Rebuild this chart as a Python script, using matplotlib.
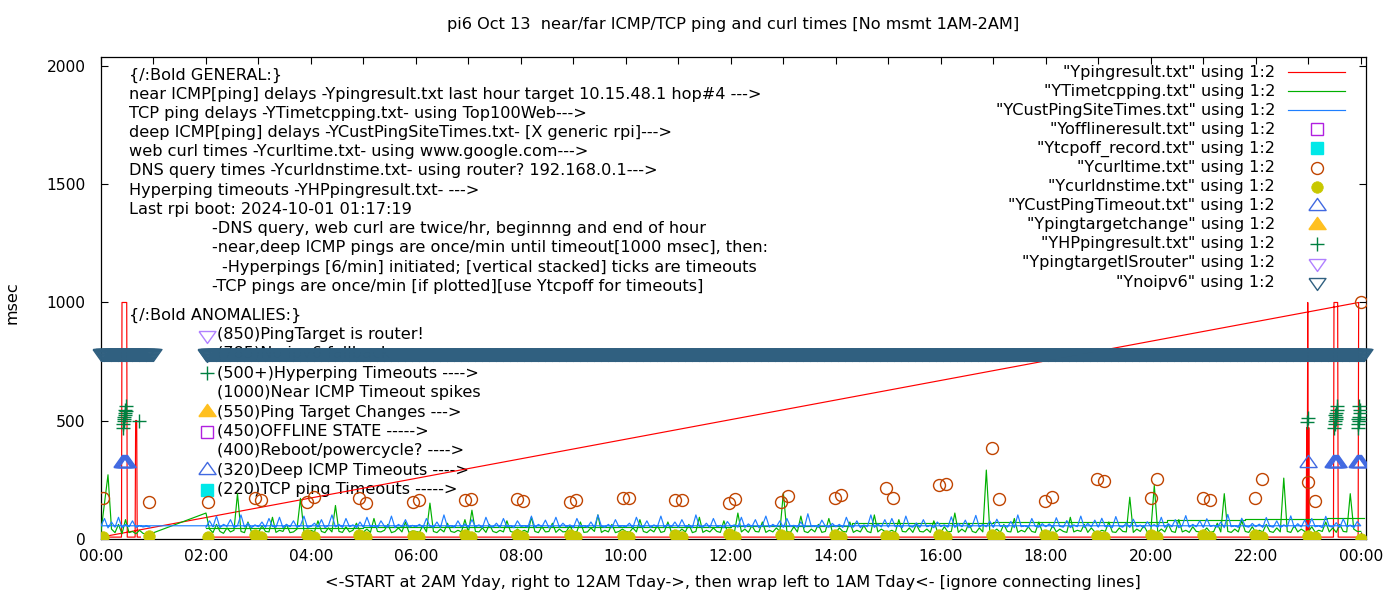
import numpy as np
import matplotlib
matplotlib.use("Agg")
import matplotlib.pyplot as plt
from matplotlib.lines import Line2D

plt.rcParams['font.family'] = ['DejaVu Sans']
FS = 11.6
TFS = 11.2

# ---- data (hours of day, msec) ----
# near ICMP ping (Ypingresult.txt), file order: 2AM..midnight then wrap 0..1AM
near_t = [2.0, 22.96, 22.97, 22.98, 22.99, 23.0, 23.01, 23.02, 23.48, 23.49, 23.56, 23.57, 23.95, 23.96,
          0.0, 0.39, 0.40, 0.49, 0.50, 0.65, 0.66, 0.68, 0.69, 0.75]
near_ms = [6, 6, 470, 6, 1000, 6, 470, 6, 6, 1000, 1000, 6, 6, 1000,
           6, 6, 1000, 1000, 6, 6, 500, 500, 6, 6]

# TCP ping delays (YTimetcpping.txt), 15 samples per hour
tcp_h0 = [30, 150, 270, 40, 25, 60, 20, 80, 25, 30, 20, 35, 22, 18, 19]
tcp_main = [
    [108, 40, 25, 60, 30, 22, 45, 28, 35, 190, 30, 25, 70, 28, 32],
    [25, 55, 30, 28, 90, 26, 35, 30, 60, 25, 28, 40, 170, 30, 26],
    [35, 28, 75, 30, 25, 45, 28, 140, 30, 26, 50, 28, 35, 65, 30],
    [28, 40, 26, 85, 30, 28, 35, 60, 25, 30, 45, 28, 70, 26, 32],
    [30, 26, 55, 28, 150, 30, 25, 40, 28, 65, 30, 26, 35, 28, 80],
    [26, 120, 30, 28, 45, 26, 60, 30, 25, 35, 28, 75, 30, 26, 40],
    [28, 35, 26, 90, 30, 25, 50, 28, 30, 65, 26, 40, 28, 30, 55],
    [25, 30, 70, 26, 28, 45, 30, 100, 26, 35, 28, 60, 25, 30, 40],
    [30, 26, 45, 28, 80, 30, 25, 38, 28, 55, 26, 30, 70, 28, 35],
    [26, 40, 28, 60, 25, 30, 90, 26, 35, 28, 45, 30, 26, 75, 28],
    [30, 25, 108, 28, 40, 26, 55, 30, 28, 70, 26, 35, 28, 45, 30],
    [193, 30, 26, 50, 28, 95, 30, 25, 40, 28, 60, 26, 30, 85, 28],
    [26, 45, 30, 28, 70, 26, 35, 28, 55, 30, 25, 100, 28, 40, 30],
    [28, 35, 26, 80, 30, 28, 45, 26, 60, 30, 28, 40, 26, 75, 30],
    [26, 50, 28, 30, 108, 26, 40, 28, 65, 30, 25, 45, 28, 290, 30],
    [28, 40, 26, 60, 30, 28, 85, 26, 35, 28, 50, 30, 26, 70, 28],
    [30, 26, 55, 28, 40, 30, 26, 90, 28, 35, 30, 60, 26, 45, 28],
    [26, 35, 30, 70, 28, 26, 45, 30, 28, 175, 26, 40, 30, 55, 28],
    [30, 225, 26, 40, 28, 60, 30, 26, 80, 28, 35, 26, 50, 30, 28],
    [28, 45, 26, 30, 65, 28, 190, 30, 26, 40, 28, 75, 30, 26, 50],
    [26, 35, 28, 60, 30, 26, 45, 28, 256, 30, 26, 55, 28, 40, 30],
    [28, 50, 26, 35, 30, 70, 28, 45, 26, 60, 30, 28, 190, 40, 30],
]
tcp_last = 30
# upper step line of the TCP file
tcp_env_t = [2.0, 5.0, 8.0, 12.0, 14.3, 17.0, 20.3, 21.8, 23.35, 24.07]
tcp_env_ms = [45, 48, 50, 53, 65, 70, 78, 83, 88, 88]

# deep ICMP delays (YCustPingSiteTimes.txt), 15 samples per hour
deep_h0 = [54, 85, 45, 70, 48, 90, 46, 60, 50, 75, 47, 55, 49, 52, 48]
deep_main = [
    [48, 75, 50, 95, 46, 60, 52, 80, 47, 55, 100, 49, 65, 46, 58],
    [50, 70, 47, 85, 52, 48, 90, 46, 60, 50, 75, 48, 55, 95, 47],
    [52, 65, 48, 80, 46, 55, 100, 49, 60, 47, 85, 50, 58, 46, 70],
    [48, 90, 50, 55, 47, 75, 52, 48, 95, 46, 60, 50, 80, 48, 56],
    [50, 60, 47, 85, 52, 48, 70, 46, 100, 50, 55, 47, 75, 49, 62],
    [47, 80, 50, 58, 46, 90, 52, 48, 65, 47, 85, 50, 55, 46, 75],
    [52, 55, 48, 95, 47, 60, 50, 78, 46, 52, 90, 48, 65, 50, 58],
    [46, 85, 50, 55, 48, 70, 47, 100, 52, 48, 60, 46, 80, 50, 55],
    [50, 65, 47, 90, 52, 48, 75, 46, 58, 50, 95, 47, 60, 49, 70],
    [48, 80, 50, 55, 46, 100, 52, 48, 65, 47, 85, 50, 56, 46, 72],
    [52, 58, 48, 90, 47, 62, 50, 80, 46, 55, 95, 48, 60, 50, 75],
    [47, 85, 52, 56, 48, 70, 46, 105, 50, 55, 47, 78, 52, 48, 64],
    [50, 60, 47, 90, 52, 48, 75, 46, 58, 50, 100, 47, 62, 49, 80],
    [48, 85, 50, 55, 46, 95, 52, 48, 66, 47, 80, 50, 57, 46, 70],
    [52, 58, 48, 92, 47, 64, 50, 78, 46, 55, 98, 48, 60, 50, 74],
    [47, 82, 52, 56, 48, 72, 46, 100, 50, 55, 47, 85, 52, 48, 63],
    [50, 62, 47, 88, 52, 48, 76, 46, 58, 50, 95, 47, 64, 49, 78],
    [48, 86, 50, 55, 46, 93, 52, 48, 66, 47, 82, 50, 57, 46, 71],
    [52, 59, 48, 90, 47, 63, 50, 80, 46, 55, 97, 48, 60, 50, 75],
    [47, 84, 52, 56, 48, 70, 46, 102, 50, 55, 47, 86, 52, 48, 64],
    [50, 61, 47, 89, 52, 48, 75, 46, 58, 50, 96, 47, 63, 49, 79],
    [48, 85, 50, 55, 46, 94, 52, 48, 67, 47, 83, 50, 57, 46, 72],
]
deep_last = 54

# web curl times (Ycurltime.txt)
curl_t = [0.04, 0.91, 2.04, 2.93, 3.05, 3.92, 4.06, 4.91, 5.05, 5.94, 6.06, 6.93, 7.05, 7.92, 8.04,
          8.93, 9.05, 9.94, 10.06, 10.93, 11.07, 11.96, 12.08, 12.95, 13.09, 13.98, 14.1, 14.95, 15.09,
          15.96, 16.1, 16.97, 17.1, 17.98, 18.11, 18.97, 19.1, 20.0, 20.11, 20.99, 21.12, 21.98, 22.11,
          23.0, 23.12, 24.0]
curl_ms = [172, 155, 155, 172, 163, 155, 176, 172, 150, 155, 163, 163, 167, 167, 159,
           155, 163, 172, 172, 163, 163, 150, 167, 155, 180, 172, 184, 214, 172,
           227, 231, 383, 167, 159, 176, 252, 244, 172, 252, 172, 163, 172, 252,
           240, 159, 1000]
# DNS query times (Ycurldnstime.txt)
dns_ms = [6, 10, 8, 16, 6, 14, 7, 15, 6, 12, 7, 16, 6, 14, 8,
          15, 6, 12, 7, 16, 6, 18, 6, 14, 7, 15, 6, 12, 8,
          16, 6, 14, 7, 15, 6, 12, 7, 16, 6, 14, 8, 15, 6,
          12, 7, 0]

# deep ICMP timeouts (YCustPingTimeout.txt)
deept_t = [0.40, 0.42, 0.44, 0.46, 0.48, 0.50, 22.99, 23.47, 23.49, 23.51, 23.53, 23.55, 23.57,
           23.92, 23.94, 23.96, 23.98, 24.0]
deept_ms = [320] * len(deept_t)

# hyperping timeouts (YHPpingresult.txt)
hp_t = [0.41, 0.42, 0.43, 0.44, 0.45, 0.46, 0.47, 0.48, 0.44, 0.45, 0.72,
        22.98, 22.99,
        23.49, 23.50, 23.51, 23.52, 23.53, 23.54, 23.55, 23.52, 23.51,
        23.94, 23.95, 23.96, 23.97, 23.98, 23.99, 23.96, 23.95]
hp_ms = [470, 485, 500, 515, 530, 545, 560, 540, 505, 525, 500,
         495, 510,
         470, 485, 500, 515, 530, 545, 560, 505, 525,
         470, 485, 500, 515, 530, 545, 560, 505]

# no ipv6 (Ynoipv6), one per minute
noipv6_t = np.concatenate([np.arange(0.0, 1.0, 1 / 60), np.arange(2.0, 24.08, 1 / 60)])
noipv6_ms = np.full(len(noipv6_t), 785)

# ---- build file-order arrays ----
step = np.arange(15) / 15
tcp_t = np.concatenate([step, np.concatenate([h + step for h in range(2, 24)]), [24.0]])
tcp_ms = np.concatenate([tcp_h0, np.ravel(tcp_main), [tcp_last]])
deep_t = np.concatenate([np.concatenate([h + step for h in range(2, 24)]), [24.0], step])
deep_ms = np.concatenate([np.ravel(deep_main), [deep_last], deep_h0])

# ---- styles ----
RED = '#ff0000'
GREEN = '#00b000'
BLUE = '#1e7fff'
OFFL = '#b020e0'
CYAN = '#00e8e8'
CURL = '#c04400'
DNS = '#c8c800'
DEEPT = '#4169e1'
GOLD = '#ffc020'
HPC = '#008040'
ROUTER = '#b080ff'
STEEL = '#306080'

TRI_DOWN = [(-1, 0.47), (1, 0.47), (0, -0.94), (-1, 0.47)]
TRI_UP = [(-1, -0.47), (1, -0.47), (0, 0.94), (-1, -0.47)]
LW = 0.85

W, H = 1400, 600
fig = plt.figure(figsize=(14, 6), dpi=100)
L, R, T, B = 101, 1366, 57, 539
ax = fig.add_axes([L / W, 1 - B / H, (R - L) / W, (B - T) / H])


def fx(px):
    return px / W


def fy(py):
    return 1 - py / H


ax.plot(near_t, near_ms, color=RED, lw=LW, zorder=3)
ax.plot(tcp_t, tcp_ms, color=GREEN, lw=LW, zorder=3)
ax.plot(tcp_env_t, tcp_env_ms, color=GREEN, lw=LW, drawstyle='steps-post', zorder=3)
ax.plot(deep_t, deep_ms, color=BLUE, lw=LW, zorder=3)
ax.plot(curl_t, curl_ms, ls='none', marker='o', ms=8.6, mfc='none', mec=CURL, mew=1, zorder=4)
ax.plot(curl_t, dns_ms, ls='none', marker='o', ms=8.3, mfc=DNS, mec=DNS, mew=0.5, zorder=4)
ax.plot(deept_t, deept_ms, ls='none', marker=TRI_UP, ms=12.4, mfc='none', mec=DEEPT, mew=1, zorder=4)
ax.plot(hp_t, hp_ms, ls='none', marker='+', ms=9.4, mec=HPC, mew=1, zorder=4)
ax.plot(noipv6_t, noipv6_ms, ls='none', marker=TRI_DOWN, ms=12.2, mfc='none', mec=STEEL, mew=1,
        zorder=4, clip_on=False)

ax.set_xlim(0, 24.1)
ax.set_ylim(-2, 2040)
ax.set_xticks(range(0, 25))
ax.set_xticklabels(['%02d:00' % (h % 24) if h % 2 == 0 else '' for h in range(0, 25)])
ax.set_yticks([0, 500, 1000, 1500, 2000])
ax.tick_params(direction='in', length=4.8, width=0.8, top=True, right=True, labelsize=TFS)
ax.tick_params(axis='x', pad=7)
ax.tick_params(axis='y', pad=11)
for s in ax.spines.values():
    s.set_linewidth(0.9)

# ---- labels ----
fig.text(fx(733), fy(25), 'pi6 Oct 13  near/far ICMP/TCP ping and curl times [No msmt 1AM-2AM]',
         ha='center', va='center', fontsize=FS)
fig.text(fx(733), fy(583),
         '<-START at 2AM Yday, right to 12AM Tday->, then wrap left to 1AM Tday<- [ignore connecting lines]',
         ha='center', va='center', fontsize=FS)
fig.text(fx(12), fy(303), 'msec', rotation=90, ha='center', va='center', fontsize=FS)

general = [
    (129, '{/:Bold GENERAL:}'),
    (129, 'near ICMP[ping] delays -Ypingresult.txt last hour target 10.15.48.1 hop#4 --->'),
    (129, 'TCP ping delays -YTimetcpping.txt- using Top100Web--->'),
    (129, 'deep ICMP[ping] delays -YCustPingSiteTimes.txt- [X generic rpi]--->'),
    (129, 'web curl times -Ycurltime.txt- using www.google.com--->'),
    (129, 'DNS query times -Ycurldnstime.txt- using router? 192.168.0.1--->'),
    (129, 'Hyperping timeouts -YHPpingresult.txt- --->'),
    (129, 'Last rpi boot: 2024-10-01 01:17:19'),
    (212, '-DNS query, web curl are twice/hr, beginnng and end of hour'),
    (212, '-near,deep ICMP pings are once/min until timeout[1000 msec], then:'),
    (222, '-Hyperpings [6/min] initiated; [vertical stacked] ticks are timeouts'),
    (212, '-TCP pings are once/min [if plotted][use Ytcpoff for timeouts]'),
]
for i, (x, s) in enumerate(general):
    ax.text(fx(x), fy(75 + i * 19.2), s, transform=fig.transFigure, ha='left', va='center',
            fontsize=FS, zorder=1)

anomalies = ['(850)PingTarget is router!', '(785)No ipv6 fallback', '(500+)Hyperping Timeouts ---->',
             '(1000)Near ICMP Timeout spikes', '(550)Ping Target Changes --->', '(450)OFFLINE STATE ----->',
             '(400)Reboot/powercycle? ---->', '(320)Deep ICMP Timeouts ---->', '(220)TCP ping Timeouts ----->']
anom_marks = [dict(marker=TRI_DOWN, ms=12.2, mfc='none', mec=ROUTER, mew=1),
              dict(marker=TRI_DOWN, ms=12.2, mfc='none', mec=STEEL, mew=1),
              dict(marker='+', ms=9.4, mec=HPC, mew=1),
              None,
              dict(marker=TRI_UP, ms=12.4, mfc=GOLD, mec=GOLD, mew=1),
              dict(marker='s', ms=9, mfc='none', mec=OFFL, mew=1),
              None,
              dict(marker=TRI_UP, ms=12.4, mfc='none', mec=DEEPT, mew=1),
              dict(marker='s', ms=9, mfc=CYAN, mec=CYAN, mew=1)]
ax.text(fx(129), fy(315), '{/:Bold ANOMALIES:}', transform=fig.transFigure, ha='left', va='center',
        fontsize=FS, zorder=1)
for i, s in enumerate(anomalies):
    yy = 334.5 + i * 19.4
    ax.text(fx(217), fy(yy), s, transform=fig.transFigure, ha='left', va='center', fontsize=FS, zorder=1)
    if anom_marks[i] is not None:
        ax.add_artist(Line2D([fx(207)], [fy(yy)], transform=fig.transFigure, ls='none', zorder=1,
                             **anom_marks[i]))

# ---- key ----
key_labels = ['"Ypingresult.txt" using 1:2', '"YTimetcpping.txt" using 1:2',
              '"YCustPingSiteTimes.txt" using 1:2', '"Yofflineresult.txt" using 1:2',
              '"Ytcpoff_record.txt" using 1:2', '"Ycurltime.txt" using 1:2', '"Ycurldnstime.txt" using 1:2',
              '"YCustPingTimeout.txt" using 1:2', '"Ypingtargetchange" using 1:2',
              '"YHPpingresult.txt" using 1:2', '"YpingtargetISrouter" using 1:2', '"Ynoipv6" using 1:2']
key_marks = [dict(color=RED), dict(color=GREEN), dict(color=BLUE),
             dict(marker='s', ms=9, mfc='none', mec=OFFL, mew=1),
             dict(marker='s', ms=9, mfc=CYAN, mec=CYAN, mew=1),
             dict(marker='o', ms=8.6, mfc='none', mec=CURL, mew=1),
             dict(marker='o', ms=8.3, mfc=DNS, mec=DNS, mew=0.5),
             dict(marker=TRI_UP, ms=12.4, mfc='none', mec=DEEPT, mew=1),
             dict(marker=TRI_UP, ms=12.4, mfc=GOLD, mec=GOLD, mew=1),
             dict(marker='+', ms=9.4, mec=HPC, mew=1),
             dict(marker=TRI_DOWN, ms=12.2, mfc='none', mec=ROUTER, mew=1),
             dict(marker=TRI_DOWN, ms=12.2, mfc='none', mec=STEEL, mew=1)]
for i, (s, m) in enumerate(zip(key_labels, key_marks)):
    yy = 72 + i * 19.1
    fig.text(fx(1275), fy(yy), s, ha='right', va='center', fontsize=FS)
    if 'marker' in m:
        fig.add_artist(Line2D([fx(1317)], [fy(yy)], transform=fig.transFigure, ls='none', **m))
    else:
        fig.add_artist(Line2D([fx(1288), fx(1345)], [fy(yy), fy(yy)], transform=fig.transFigure,
                              lw=LW, **m))

fig.savefig('out.png', dpi=100)
